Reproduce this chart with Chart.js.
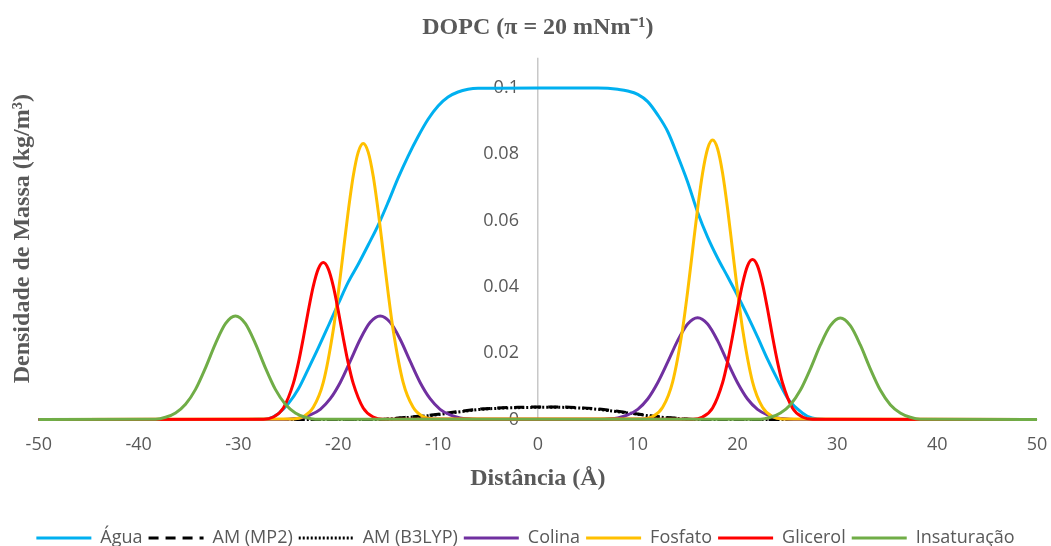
<!DOCTYPE html>
<html>
<head>
<meta charset="utf-8">
<script src="https://cdn.jsdelivr.net/npm/chart.js@4.4.1/dist/chart.umd.min.js"></script>
<style>
  html, body { margin: 0; padding: 0; background: #fff; }
  #wrap { width: 1051px; height: 546px; }
</style>
</head>
<body>
<div id="wrap"><canvas id="densChart"></canvas></div>
<script>
// ----------------------
// DATA (Distância in Å, densidade)
// ----------------------
const xTicks = [-50, -40, -30, -20, -10, 0, 10, 20, 30, 40, 50];
const yTicks = [0, 0.02, 0.04, 0.06, 0.08, 0.1];
const yTickLabels = ["0", "0.02", "0.04", "0.06", "0.08", "0.1"];

const aguaX = [-50, -30, -28, -27, -26, -25, -24, -23, -22, -21, -20, -19, -18, -17, -16, -15, -14, -13, -12, -11, -10, -9, -8, -7, -6, 0,
  6, 7, 8, 9, 10, 11, 12, 13, 14, 15, 16, 17, 18, 19, 20, 21, 22, 23, 24, 25, 26, 27, 28, 30, 50];
const aguaY = [0, 0, 0.0001, 0.0003, 0.0018, 0.0048, 0.0092, 0.0153, 0.0216, 0.0282, 0.0349, 0.0414, 0.0468, 0.0526, 0.0586, 0.0655, 0.0728, 0.0794, 0.0853, 0.0905, 0.0945, 0.0972, 0.0987, 0.0995, 0.0998, 0.0999,
  0.0999, 0.0998, 0.0995, 0.0990, 0.0980, 0.0958, 0.0918, 0.0868, 0.0795, 0.0716, 0.0625, 0.0550, 0.0487, 0.0431, 0.0374, 0.0313, 0.0249, 0.0182, 0.0121, 0.0065, 0.0032, 0.0010, 0.0002, 0, 0];

const mp2X = [-50, -16, -14, -12, -10, -8, -6, -4, -2, 0, 2, 4, 6, 8, 10, 12, 14, 16, 50];
const mp2Y = [0, 0, 0.0005, 0.0010, 0.0016, 0.0024, 0.0031, 0.0035, 0.0037, 0.0038, 0.0038, 0.0036, 0.0032, 0.0025, 0.0017, 0.0009, 0.0004, 0, 0];

const b3lypX = [-50, -16, -14, -12, -10, -8, -6, -4, -2, 0, 2, 4, 6, 8, 10, 12, 14, 16, 50];
const b3lypY = [0, 0, 0.0004, 0.0009, 0.0015, 0.0023, 0.0030, 0.0034, 0.0036, 0.0037, 0.0037, 0.0035, 0.0031, 0.0024, 0.0016, 0.0008, 0.0003, 0, 0];

const colinaX = [-50, -25.8, -24.8, -23.8, -22.8, -21.8, -20.8, -19.8, -18.8, -17.8, -16.8, -15.8, -14.8, -13.8, -12.8, -11.8, -10.8, -9.8, -8.8, -7.8, -6.8, -5.8,
  6, 7, 8, 9, 10, 11, 12, 13, 14, 15, 16, 17, 18, 19, 20, 21, 22, 23, 24, 25, 26, 50];
const colinaY = [0, 0, 0.0002, 0.0005, 0.0014, 0.0031, 0.0063, 0.0112, 0.0176, 0.0242, 0.0293, 0.0312, 0.0293, 0.0242, 0.0176, 0.0112, 0.0063, 0.0031, 0.0014, 0.0005, 0.0002, 0,
  0, 0.0002, 0.0005, 0.0014, 0.0031, 0.0062, 0.0111, 0.0173, 0.0238, 0.0288, 0.0307, 0.0288, 0.0238, 0.0173, 0.0111, 0.0062, 0.0031, 0.0014, 0.0005, 0.0002, 0, 0];

const fosfatoX = [-50, -24.5, -23.5, -22.5, -21.5, -20.5, -20, -19.5, -19, -18.5, -18, -17.5, -17, -16.5, -16, -15.5, -15, -14.5, -13.5, -12.5, -11.5, -10.5,
  10.5, 11.5, 12.5, 13.5, 14.5, 15, 15.5, 16, 16.5, 17, 17.5, 18, 18.5, 19, 19.5, 20, 20.5, 21.5, 22.5, 23.5, 24.5, 50];
const fosfatoY = [0, 0.0002, 0.0009, 0.0037, 0.0112, 0.0270, 0.0381, 0.0505, 0.0628, 0.0734, 0.0806, 0.0832, 0.0806, 0.0734, 0.0628, 0.0505, 0.0381, 0.0270, 0.0112, 0.0037, 0.0009, 0.0002,
  0.0002, 0.0009, 0.0037, 0.0114, 0.0274, 0.0386, 0.0511, 0.0636, 0.0743, 0.0816, 0.0842, 0.0816, 0.0743, 0.0636, 0.0511, 0.0386, 0.0274, 0.0114, 0.0037, 0.0009, 0.0002, 0];

const glicerolX = [-50, -27.5, -26.5, -25.5, -24.5, -24, -23.5, -23, -22.5, -22, -21.5, -21, -20.5, -20, -19.5, -19, -18.5, -17.5, -16.5, -15.5,
  15.5, 16.5, 17.5, 18.5, 19, 19.5, 20, 20.5, 21, 21.5, 22, 22.5, 23, 23.5, 24, 24.5, 25.5, 26.5, 27.5, 50];
const glicerolY = [0, 0.0001, 0.0008, 0.0035, 0.0109, 0.0170, 0.0246, 0.0328, 0.0402, 0.0454, 0.0473, 0.0454, 0.0402, 0.0328, 0.0246, 0.0170, 0.0109, 0.0035, 0.0008, 0.0001,
  0.0001, 0.0008, 0.0035, 0.0111, 0.0174, 0.0251, 0.0334, 0.0409, 0.0463, 0.0482, 0.0463, 0.0409, 0.0334, 0.0251, 0.0174, 0.0111, 0.0035, 0.0008, 0.0001, 0];

const insatX = [-50, -38.3, -37.3, -36.3, -35.3, -34.3, -33.3, -32.3, -31.3, -30.3, -29.3, -28.3, -27.3, -26.3, -25.3, -24.3, -23.3, -22.3,
  22.3, 23.3, 24.3, 25.3, 26.3, 27.3, 28.3, 29.3, 30.3, 31.3, 32.3, 33.3, 34.3, 35.3, 36.3, 37.3, 38.3, 50];
const insatY = [0, 0.0001, 0.0007, 0.0020, 0.0046, 0.0091, 0.0156, 0.0229, 0.0289, 0.0312, 0.0289, 0.0229, 0.0156, 0.0091, 0.0046, 0.0020, 0.0007, 0.0001,
  0.0001, 0.0007, 0.0020, 0.0045, 0.0089, 0.0153, 0.0225, 0.0283, 0.0306, 0.0283, 0.0225, 0.0153, 0.0089, 0.0045, 0.0020, 0.0007, 0.0001, 0];

// ----------------------
// HELPERS
// ----------------------
const pts = (xs, ys) => xs.map((x, i) => ({ x, y: ys[i] }));
const GRAY = "#595959";
const SERIF = "'Liberation Serif', 'Times New Roman', serif";

function serie(label, xs, ys, color, order, dash) {
  return {
    label,
    data: pts(xs, ys),
    borderColor: color,
    backgroundColor: color,
    borderWidth: 3,
    borderDash: dash || [],
    pointRadius: 0,
    fill: false,
    cubicInterpolationMode: "monotone",
    clip: 6,
    order
  };
}

// legend line samples keep the dataset's dash pattern and width
function legendLabels(chart) {
  const items = Chart.defaults.plugins.legend.labels.generateLabels(chart);
  items.forEach(it => {
    const ds = chart.data.datasets[it.datasetIndex];
    it.lineDash = ds.borderDash;
    it.lineWidth = ds.borderWidth;
    it.strokeStyle = ds.borderColor;
  });
  return items;
}

// ----------------------
// CHART
// ----------------------
const chart = new Chart(document.getElementById("densChart"), {
  type: "line",
  data: {
    datasets: [
      serie("Água", aguaX, aguaY, "#00B0F0", 7),
      serie("AM (MP2)", mp2X, mp2Y, "#000000", 6, [10, 7]),
      serie("AM (B3LYP)", b3lypX, b3lypY, "#000000", 5, [2, 2]),
      serie("Colina", colinaX, colinaY, "#7030A0", 4),
      serie("Fosfato", fosfatoX, fosfatoY, "#FFC000", 3),
      serie("Glicerol", glicerolX, glicerolY, "#FF0000", 2),
      serie("Insaturação", insatX, insatY, "#70AD47", 1)
    ]
  },
  options: {
    responsive: true,
    maintainAspectRatio: false,
    animation: false,
    layout: { padding: { left: 0, right: 0, top: 0, bottom: -11 } },
    scales: {
      x: {
        type: "linear",
        position: "bottom",
        min: -50,
        max: 50,
        afterBuildTicks: axis => { axis.ticks = xTicks.map(v => ({ value: v })); },
        afterFit: axis => { axis.paddingLeft = 0; axis.paddingRight = 14; },
        // only the line at x = 0 is shown (vertical axis line)
        grid: {
          display: true,
          drawTicks: false,
          color: c => (c.tick && c.tick.value === 0 ? "#c8c8c8" : "rgba(0,0,0,0)"),
          lineWidth: 1.5
        },
        border: { display: true, color: "#d9d9d9" },
        ticks: {
          padding: 14,
          color: GRAY,
          font: { family: "'Open Sans', sans-serif", size: 18 },
          callback: v => String(v)
        },
        title: {
          display: true,
          text: "Distância (Å)",
          color: GRAY,
          font: { family: SERIF, size: 24, weight: "bold" },
          padding: { top: -5, bottom: 30 }
        }
      },
      y: {
        type: "linear",
        position: { x: -1.9 },
        min: 0,
        max: 0.109,
        afterBuildTicks: axis => { axis.ticks = yTicks.map(v => ({ value: v })); },
        grid: { display: false },
        border: { display: false },
        ticks: {
          color: GRAY,
          font: { family: "'Open Sans', sans-serif", size: 18 },
          callback: (v, i) => yTickLabels[i]
        }
      },
      yTitle: {
        type: "linear",
        position: "left",
        min: 0,
        max: 1,
        grid: { display: false },
        border: { display: false },
        ticks: { display: false, padding: 0 },
        title: {
          display: true,
          text: "Densidade de Massa (kg/m³)",
          color: GRAY,
          font: { family: SERIF, size: 24, weight: "bold" },
          padding: { top: 8, bottom: -6 }
        }
      }
    },
    plugins: {
      title: {
        display: true,
        fullSize: false,
        text: "DOPC (π = 20 mNm⁻¹)",
        color: GRAY,
        font: { family: SERIF, size: 24, weight: "bold" },
        padding: { top: 13, bottom: 16 }
      },
      legend: {
        position: "bottom",
        labels: {
          usePointStyle: true,
          pointStyle: "line",
          pointStyleWidth: 55,
          color: GRAY,
          padding: 6,
          font: { family: "'Liberation Sans Narrow', 'Open Sans', sans-serif", size: 18 },
          sort: (a, b) => a.datasetIndex - b.datasetIndex,
          generateLabels: legendLabels
        }
      },
      tooltip: { enabled: false }
    }
  }
});
</script>
</body>
</html>
